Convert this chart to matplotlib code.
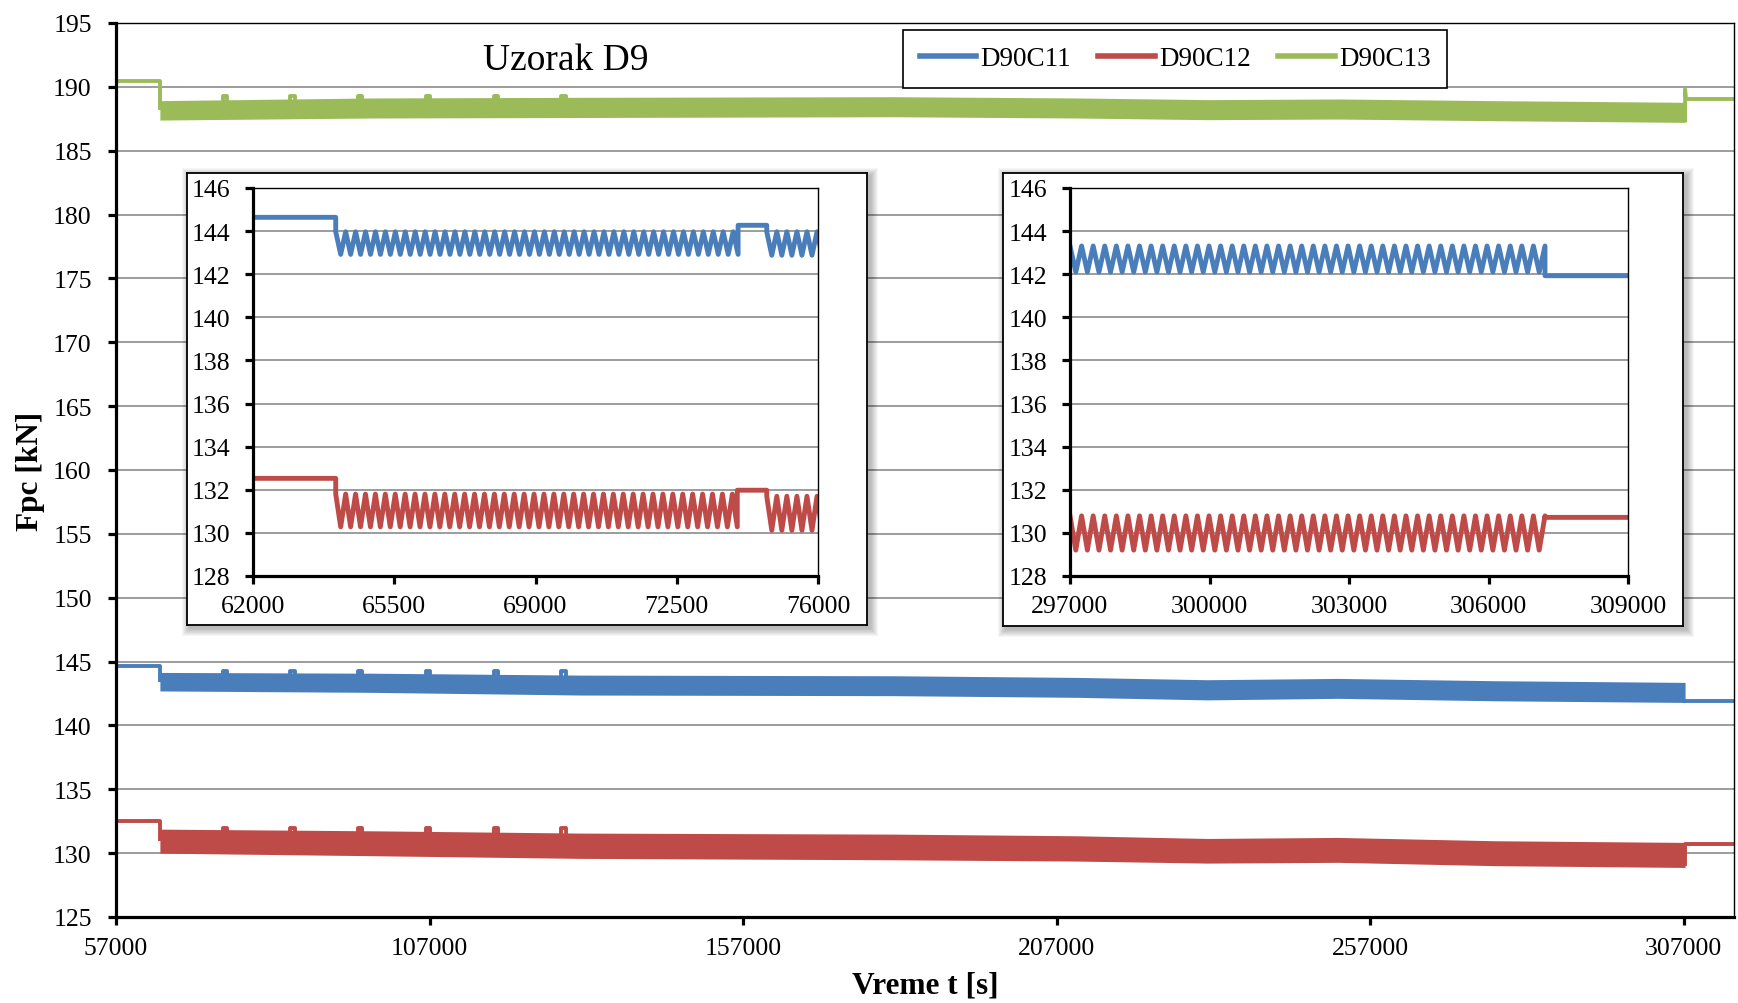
import numpy as np
import matplotlib.pyplot as plt
from matplotlib.patches import Rectangle

plt.rcParams["font.family"] = ["Liberation Serif", "DejaVu Serif"]

# ---- main chart: the loading cycles are too dense to resolve, so the band
# edges (upper / lower envelope) are read at a few times from the picture
main_t    = [64000, 97700, 131100, 181100, 210200, 231000, 251900, 276900, 307200]
blue_top  = [144.15, 144.09, 143.94, 143.89, 143.76, 143.58, 143.68, 143.50, 143.37]
blue_bot  = [142.70, 142.59, 142.38, 142.33, 142.20, 142.00, 142.12, 141.93, 141.80]
red_top   = [131.88, 131.75, 131.57, 131.49, 131.36, 131.15, 131.23, 130.97, 130.84]
red_bot   = [130.00, 129.80, 129.59, 129.48, 129.38, 129.22, 129.28, 129.02, 128.88]
green_top = [188.92, 189.13, 189.18, 189.23, 189.13, 189.00, 189.05, 188.92, 188.79]
green_bot = [187.40, 187.56, 187.60, 187.66, 187.56, 187.43, 187.48, 187.35, 187.22]

# flat parts before / after cycling
start_t = [57000, 64000]
end_t = [307200, 315000]
blue_start, blue_end = 144.67, 141.90
red_start, red_end = 132.50, 130.70
green_start, green_end, green_end_peak = 190.48, 189.05, 189.83

# short rest periods between cycle blocks
rest_t = [74000, 84800, 95600, 106400, 117200, 128000]
rest_len = 700
blue_rest, red_rest, green_rest = 144.27, 132.00, 189.30

# ---- insets: ("flat", t0, t1, level) or ("osc", t0, t1, peak, trough)
left_period = 245
left_blue = [("flat", 62000, 64050, 144.64), ("osc", 64050, 74020, 143.97, 142.92),
             ("flat", 74020, 74730, 144.27), ("osc", 74730, 76100, 143.97, 142.88)]
left_red = [("flat", 62000, 64050, 132.53), ("osc", 64050, 74000, 131.80, 130.28),
            ("flat", 74000, 74730, 131.98), ("osc", 74730, 76100, 131.70, 130.12)]

right_period = 248
right_blue = [("osc", 297000, 307215, 143.31, 142.10), ("flat", 307215, 309600, 141.93)]
right_red = [("osc", 297000, 307215, 130.79, 129.20), ("flat", 307215, 309600, 130.72)]

left_xticks = [62000, 65500, 69000, 72500, 76000]
right_xticks = [297000, 300000, 303000, 306000, 309000]
inset_yticks = [128, 130, 132, 134, 136, 138, 140, 142, 144, 146]
main_xticks = [57000, 107000, 157000, 207000, 257000, 307000]
main_yticks = [125, 130, 135, 140, 145, 150, 155, 160, 165, 170, 175, 180, 185, 190, 195]

names = ["D90C11", "D90C12", "D90C13"]
colors = ["#4a7ebb", "#be4b48", "#9bbb59"]

W, H = 1738, 1004
LW = 2.8
FS = 18.5


def fig_box(x0, y0, x1, y1):
    # pixel box with top-left origin -> [left, bottom, width, height]
    return [x0 / W, 1 - y1 / H, (x1 - x0) / W, (y1 - y0) / H]


def build_trace(segments, period):
    ts, vs = [], []
    for seg in segments:
        if seg[0] == "flat":
            _, t0, t1, level = seg
            ts += [t0, t1]
            vs += [level, level]
        else:
            _, t0, t1, peak, trough = seg
            n = int(round(2 * (t1 - t0) / period))
            ts += list(np.linspace(t0, t1, n + 1))
            vs += [peak if k % 2 == 0 else trough for k in range(n + 1)]
    return ts, vs


def style_axes(ax, ypad, xpad):
    ax.grid(axis="y", color="#949494", lw=1.3)
    ax.set_axisbelow(True)
    for side in ["left", "bottom"]:
        ax.spines[side].set_linewidth(2.3)
    for side in ["top", "right"]:
        ax.spines[side].set_linewidth(1.0)
    ax.tick_params(direction="out", length=5.5, width=2.3, labelsize=FS)
    ax.tick_params(axis="y", pad=ypad)
    ax.tick_params(axis="x", pad=xpad)
    ax.tick_params(top=False, right=False)


fig = plt.figure(figsize=(W / 100, H / 100), dpi=100)

# ---- main axes
ax = fig.add_axes(fig_box(116, 24, 1734, 918))
ax.set_zorder(0)
bands = [(blue_top, blue_bot, blue_start, blue_end, blue_rest),
         (red_top, red_bot, red_start, red_end, red_rest),
         (green_top, green_bot, green_start, green_end, green_rest)]
for (top, bot, v0, v1, vr), c, name in zip(bands, colors, names):
    ax.fill_between(main_t, bot, top, color=c, lw=0)
    ax.plot(start_t + [start_t[-1]], [v0, v0, (top[0] + bot[0]) / 2], color=c, lw=LW,
            solid_capstyle="butt")
    for t in rest_t:
        mid = np.interp(t, main_t, bot) + 0.3
        ax.plot([t, t, t + rest_len, t + rest_len], [mid, vr, vr, mid], color=c, lw=LW,
                solid_capstyle="round", solid_joinstyle="round")
    ax.plot([], [], color=c, lw=4, label=name)
ax.plot([end_t[0], end_t[0], end_t[1]], [blue_bot[-1] + 0.15, blue_end, blue_end],
        color=colors[0], lw=LW)
ax.plot([end_t[0], end_t[0], end_t[1]], [red_bot[-1] + 0.3, red_end, red_end],
        color=colors[1], lw=LW)
ax.plot([end_t[0], end_t[0], end_t[0] + 150, end_t[1]],
        [green_bot[-1] + 0.15, green_end_peak, green_end, green_end], color=colors[2], lw=LW)

ax.set_xlim(57000, 315000)
ax.set_ylim(125, 195)
ax.set_xticks(main_xticks)
ax.set_yticks(main_yticks)
style_axes(ax, ypad=12, xpad=9)
ax.set_xlabel("Vreme t [s]", fontsize=22.5, fontweight="bold", labelpad=8)
ax.set_ylabel("Fpc [kN]", fontsize=22.5, fontweight="bold", labelpad=6)

leg = ax.legend(loc="center", bbox_to_anchor=(1175 / W, 1 - 60 / H),
                bbox_transform=fig.transFigure, ncol=3, fontsize=19.5, frameon=True,
                fancybox=False, framealpha=1, edgecolor="black", handlelength=2.1,
                handletextpad=0.15, columnspacing=1.0, borderpad=0.62)
leg.get_frame().set_linewidth(1.2)

fig.text(566 / W, 1 - 61 / H, "Uzorak D9", fontsize=27, ha="center", va="center")

# ---- insets
insets = [
    ((187, 174, 867, 626), (253, 189, 818, 577), left_blue, left_red, left_period,
     (62000, 76000), left_xticks),
    ((1003, 174, 1683, 627), (1070, 189, 1628, 577), right_blue, right_red, right_period,
     (297000, 309000), right_xticks),
]
for box, inner, blue_seg, red_seg, period, xlim, xticks in insets:
    x0, y0, x1, y1 = box
    # soft shadow
    for k in range(1, 9):
        fig.add_artist(Rectangle(((x0 - k + 3) / W, 1 - (y1 + k + 3) / H),
                                 (x1 - x0 + 2 * k) / W, (y1 - y0 + 2 * k) / H,
                                 transform=fig.transFigure, color="black", alpha=0.035,
                                 lw=0, zorder=1))
    bx = fig.add_axes(fig_box(*box))
    bx.set_zorder(2)
    bx.set_xticks([])
    bx.set_yticks([])
    for sp in bx.spines.values():
        sp.set_linewidth(1.3)

    ix = fig.add_axes(fig_box(*inner))
    ix.set_zorder(3)
    for seg, c in zip([blue_seg, red_seg], colors):
        tt, vv = build_trace(seg, period)
        ix.plot(tt, vv, color=c, lw=3.5, solid_joinstyle="round")
    ix.set_xlim(*xlim)
    ix.set_ylim(128, 146)
    ix.set_xticks(xticks)
    ix.set_yticks(inset_yticks)
    style_axes(ix, ypad=11, xpad=8)

fig.savefig("out.png", dpi=100)
